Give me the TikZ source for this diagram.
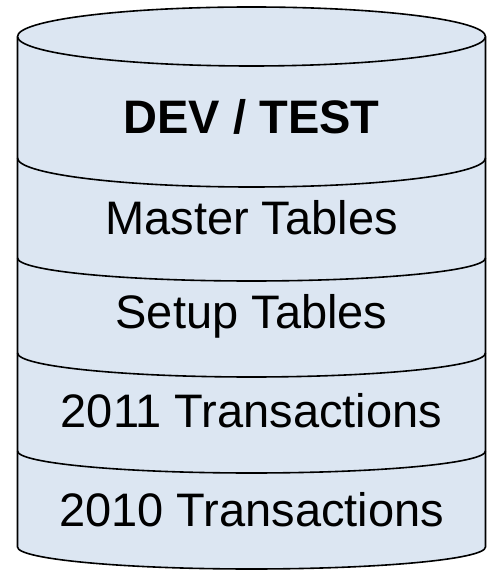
\documentclass[tikz,border=0pt]{standalone}
\usepackage{fontspec}
\setmainfont{Liberation Sans}
\usetikzlibrary{calc}
\definecolor{dbfill}{HTML}{DCE6F2}
\def\dbrx{234pt}
\tikzstyle{db outline}=[draw=black, line width=1.6pt, line join=round]
\tikzstyle{layer}=[font=\fontsize{47}{56}\selectfont, anchor=base, inner sep=0pt]
\tikzstyle{title layer}=[layer, font=\fontsize{47}{56}\selectfont\bfseries]

\begin{document}
\begin{tikzpicture}[x=1pt, y=1pt]
		\useasboundingbox (0,0) rectangle (494,570);
		% Body of the database
		\fill[dbfill] (17.5,533.5) -- (17.5,23)
			arc[start angle=180, end angle=360, x radius=\dbrx, y radius=22pt]
			-- (485.5,533.5) -- cycle;
		\draw[db outline] (17.5,533.5) -- (17.5,23)
			arc[start angle=180, end angle=360, x radius=\dbrx, y radius=22pt]
			-- (485.5,533.5);

		% Top of the database
		\draw[db outline, fill=dbfill] (251.5,533.5) ellipse [x radius=\dbrx, y radius=29.5pt];

		% Draw the separators between the layers
		\foreach \y / \ry in {412/29, 312/23, 217/24, 119/22}
		\draw[db outline] (17.5,\y) arc[start angle=180, end angle=360, x radius=\dbrx, y radius=\ry pt];

		% Label the layers
		\node[title layer] (dev) at (251.5,436) {DEV / TEST};
		\foreach \name / \y / \txt in {master/335/Master Tables, setup/241/Setup Tables, trans-2011/142/2011 Transactions, trans-2010/43/2010 Transactions}
		\node[layer] (\name) at (251.5,\y) {\txt};

	\end{tikzpicture}
\end{document}
